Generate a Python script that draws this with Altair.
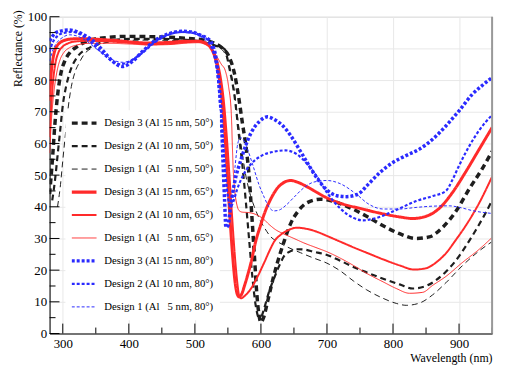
import altair as alt
import pandas as pd

# ---------------- data ----------------
series_names = [
    "Design 3 (Al 15 nm, 50°)",
    "Design 2 (Al 10 nm, 50°)",
    "Design 1 (Al\u00a0\u00a0\u00a05 nm, 50°)",
    "Design 3 (Al 15 nm, 65°)",
    "Design 2 (Al 10 nm, 65°)",
    "Design 1 (Al\u00a0\u00a0\u00a05 nm, 65°)",
    "Design 3 (Al 15 nm, 80°)",
    "Design 2 (Al 10 nm, 80°)",
    "Design 1 (Al\u00a0\u00a0\u00a05 nm, 80°)",
]

# Design 3, 50 deg
b3_wl = [280, 284, 288, 292, 297, 303, 310, 322, 340, 370, 400, 450, 480, 500, 515, 530, 542, 552,
         560, 566, 572, 578, 582, 586, 590, 594, 597, 600, 604, 610, 618, 625, 635, 645, 657, 670,
         690, 705, 720, 740, 760, 785, 810, 835, 855, 875, 895, 915, 935, 950]
b3_r = [44, 54, 66, 75, 82, 86, 88.5, 90.6, 92.5, 93.5, 93.8, 93.6, 93.3, 93, 92.6, 91.6, 90, 87.3,
        82, 75, 66.4, 58, 50, 38, 25, 12, 6, 3.5, 5, 10, 17, 22.4, 29, 34.7, 38.8, 41.3,
        42.4, 42, 41, 39.2, 37, 34, 31.5, 30, 30.5, 33.5, 38.5, 45.5, 52, 57.5]

# Design 2, 50 deg
b2_wl = [284, 288, 292, 296, 300, 305, 310, 322, 342, 370, 400, 450, 500, 520, 535, 545, 552, 560,
         567, 572, 577, 582, 587, 592, 597, 601, 605, 612, 620, 628, 635, 645, 655, 665, 680, 700,
         720, 740, 760, 785, 810, 830, 850, 865, 880, 895, 910, 925, 940, 950]
b2_r = [42, 48, 56, 64, 72, 78, 82, 87.3, 90.4, 92.4, 93, 93, 92.5, 91.6, 90.6, 89.8, 84, 75,
        62, 53, 42, 30, 18, 9, 5, 5.5, 8, 13, 17.5, 21.5, 24.4, 26, 26.6, 26.5, 25.8, 24.8,
        23, 21, 19.3, 17.3, 15.5, 14.2, 15, 16.8, 19.5, 23, 27.5, 32.5, 38, 42]

# Design 1, 50 deg
b1_wl = [292, 296, 300, 304, 308, 313, 318, 325, 333, 345, 358, 380, 420, 470, 500, 520, 535, 545,
         553, 560, 566, 571, 577, 583, 590, 597, 605, 615, 625, 640, 660, 680, 700, 720, 740, 760,
         785, 805, 820, 840, 860, 880, 905, 930, 950]
b1_r = [40, 46, 54.6, 63, 71, 78, 82.2, 85.5, 88.3, 90.2, 91.4, 92.2, 92.6, 92.5, 92.2, 91.5, 90.5, 88.5,
        84, 76, 66, 58, 50, 44.5, 40, 36.5, 33.5, 30.5, 29, 27.3, 25.5, 23.8, 22.2, 19.8, 16.6, 13.8,
        11.1, 9.5, 8.9, 9.6, 12.2, 16, 21.4, 26, 29]

# Design 3, 65 deg
r3_wl = [280, 282, 285, 288, 292, 297, 305, 315, 330, 350, 380, 410, 430, 460, 490, 505, 515, 523,
         530, 536, 541, 545, 549, 553, 557, 561, 564, 567, 571, 575, 580, 585, 592, 600, 605, 615,
         625, 635, 645, 655, 670, 685, 700, 725, 750, 780, 810, 830, 850, 870, 890, 910, 930, 950]
r3_r = [73.5, 81, 86.5, 89.4, 91, 92, 92.7, 93, 93.1, 92.9, 92.5, 91.9, 91.7, 91.9, 92.3, 92.3, 91.8, 90.5,
        87.5, 82, 74, 64, 51, 37, 25, 16, 12.5, 11.6, 12.5, 15, 18.5, 22.4, 29, 34.5, 37.7, 42.5,
        45.9, 47.7, 48.3, 47.8, 46.3, 44.5, 42.8, 40.8, 39.5, 38, 36.8, 36.3, 37, 39.5, 44.5, 51, 58, 65]

# Design 2, 65 deg
r2_wl = [280, 282, 285, 289, 293, 300, 308, 320, 340, 370, 400, 430, 460, 490, 505, 515, 525, 533,
         539, 544, 548, 552, 556, 560, 564, 567, 570, 575, 585, 595, 605, 615, 620, 630, 640, 655,
         670, 685, 700, 720, 740, 760, 785, 810, 832, 850, 865, 880, 895, 910, 930, 950]
r2_r = [62, 70, 79, 85.5, 88.5, 90.6, 91.6, 92.2, 92.4, 92.2, 91.8, 91.3, 91.5, 92, 92.1, 91.6, 90, 86.5,
        81, 73, 63, 51, 38, 26, 16.5, 12, 11.1, 11.8, 14.2, 18, 22.4, 27, 29, 31.2, 32.5, 33.4,
        33, 32.1, 30.8, 29, 27.2, 25.5, 23.4, 21.5, 20.2, 20.6, 22.4, 25.3, 29.5, 34, 41, 49.5]

# Design 1, 65 deg
r1_wl = [280, 283, 287, 291, 296, 302, 310, 320, 340, 370, 400, 430, 460, 490, 505, 515, 525, 533,
         540, 546, 551, 555, 558, 561, 564, 567, 572, 580, 588, 595, 603, 612, 622, 635, 650, 665,
         685, 700, 720, 740, 760, 785, 805, 825, 845, 860, 880, 905, 930, 950]
r1_r = [57, 68, 77, 82.5, 86.5, 88.8, 90.2, 91, 91.6, 91.6, 91.4, 91.1, 91.2, 91.7, 91.8, 91.3, 89.8, 87.5,
        85, 83, 78, 70, 52, 44, 40.3, 38.8, 38.3, 38.2, 37.9, 37.3, 36.3, 34.5, 32.8, 31.4, 30, 28.6,
        27, 25.8, 23.8, 21.5, 19, 16.3, 14.2, 12.7, 13, 15.2, 18, 22.4, 26.5, 30.3]

# Design 3, 80 deg
u3_wl = [280, 285, 290, 300, 310, 320, 330, 345, 360, 375, 390, 405, 420, 440, 460, 480, 495, 510,
         520, 527, 532, 536, 540, 543, 545, 547, 550, 554, 560, 570, 585, 598, 610, 620, 632, 645,
         657, 670, 685, 700, 715, 730, 747, 762, 780, 800, 820, 840, 860, 880, 900, 920, 935, 950]
u3_r = [92.3, 94, 95, 95.6, 95.8, 95.4, 94.5, 92.5, 89.5, 86, 84.3, 85.8, 88.9, 92.5, 94.6, 95.4, 95.2, 94,
        93, 91, 87, 80, 68, 52, 42, 33.5, 34, 40, 47.5, 55, 63.3, 67, 68.4, 67.6, 65.8, 62.5,
        58.5, 54, 49, 45.3, 43.5, 43.2, 44, 47, 50.8, 54, 56.2, 58.2, 61.3, 65.5, 70.3, 75.5, 78.3, 80.8]

# Design 2, 80 deg
u2_wl = [280, 285, 290, 300, 315, 330, 345, 360, 375, 388, 400, 420, 440, 460, 480, 495, 510, 522,
         529, 534, 538, 542, 546, 550, 554, 558, 564, 572, 585, 600, 620, 637, 655, 670, 685, 700,
         720, 740, 755, 770, 785, 810, 835, 860, 880, 890, 900, 915, 930, 950]
u2_r = [89, 92, 93.5, 94.8, 95.2, 94, 91.5, 88.5, 86, 85, 85.8, 88.5, 92, 94.3, 95.2, 95, 94, 92,
        88, 82, 73, 62, 51, 43, 40, 41.5, 45.5, 49.5, 53.5, 56, 57.4, 57.8, 56.5, 53.5, 49.5, 44.5,
        39.5, 36.5, 35.7, 36.2, 37.2, 39.5, 41.8, 43.4, 45, 48.5, 53, 59, 64, 69]

# Design 1, 80 deg
u1_wl = [280, 285, 290, 300, 310, 320, 335, 350, 365, 380, 392, 405, 420, 440, 460, 480, 495, 510,
         522, 530, 536, 541, 545, 549, 553, 557, 561, 565, 569, 574, 580, 588, 597, 605, 612, 620,
         628, 638, 650, 665, 680, 700, 720, 745, 762, 785, 810, 835, 860, 885, 905, 920, 950]
u1_r = [86, 89.5, 91.5, 93.5, 94.3, 94, 92.5, 90, 87.8, 86, 85.6, 86.5, 89, 92.5, 94.3, 95, 94.8, 93.5,
        91, 87, 80, 68, 55, 45, 40.5, 44, 53, 60, 61.8, 61, 58, 53, 47, 43, 40, 38.7,
        39, 40.5, 43, 46, 47.8, 48.3, 47.3, 43.9, 41, 39.3, 39.3, 39.8, 40.2, 40.3, 39.6, 38.8, 37.9]

curves = [(b3_wl, b3_r), (b2_wl, b2_r), (b1_wl, b1_r),
          (r3_wl, r3_r), (r2_wl, r2_r), (r1_wl, r1_r),
          (u3_wl, u3_r), (u2_wl, u2_r), (u1_wl, u1_r)]

# tick values
x_major = [300, 400, 500, 600, 700, 800, 900]
x_minor = [350, 450, 550, 650, 750, 850, 950]
y_major = [0, 10, 20, 30, 40, 50, 60, 70, 80, 90, 100]
y_minor = [5, 15, 25, 35, 45, 55, 65, 75, 85, 95]

# ---------------- styles ----------------
BLACK, RED, BLUE = "#1e1e1e", "#ff2a2a", "#2a2aff"
colors = [BLACK, BLACK, BLACK, RED, RED, RED, BLUE, BLUE, BLUE]
dashes = [[6, 4], [6, 4], [6, 4], [1, 0], [1, 0], [1, 0], [3, 2], [3, 2], [3, 2]]
widths = [3.5, 2.2, 1.0, 3.0, 2.0, 1.0, 3.5, 2.2, 1.0]

rows = []
for i, ((wl, r), name, w) in enumerate(zip(curves, series_names, widths)):
    for a, b in zip(wl, r):
        rows.append({"series": name, "wl": a, "R": b, "w": w, "order": i})
df = pd.DataFrame(rows)

W, H, TOP = 447, 320, 7
FONT = "Liberation Serif"
xscale = alt.Scale(domain=[280, 950], nice=False, zero=False)
yscale = alt.Scale(domain=[0, 100], nice=False, zero=False)

axis_style = dict(labelFont=FONT, labelFontSize=13, labelColor="black",
                  titleFont=FONT, titleFontSize=12, titleFontWeight="normal", titleColor="black",
                  domainColor="black", domainWidth=1, gridColor="#e8e8e8", gridWidth=1)
xaxis = alt.Axis(title="Wavelength (nm)", values=x_major, grid=True, ticks=False,
                 labelPadding=4, titleAnchor="end", titleAlign="right",
                 titleX=W, titleY=28, titleBaseline="alphabetic", **axis_style)
yaxis = alt.Axis(title="Reflectance (%)", values=y_major, grid=True, ticks=False,
                 labelPadding=3, titleAnchor="end", titleAlign="right",
                 titleX=-28, titleY=-TOP, titleBaseline="alphabetic", titleAngle=-90, **axis_style)

width_expr = ("test(/^Design 3/, datum.value) ? 3.2 : "
              "(test(/^Design 2/, datum.value) ? 2.2 : 1)")

lines = alt.Chart(df).mark_line(interpolate="monotone", clip=True).encode(
    x=alt.X("wl:Q", scale=xscale, axis=xaxis),
    y=alt.Y("R:Q", scale=yscale, axis=yaxis),
    color=alt.Color("series:N", scale=alt.Scale(domain=series_names, range=colors),
                    legend=alt.Legend(title=None, orient="none", legendX=16, legendY=94.5,
                                      direction="vertical", padding=6, fillColor="white",
                                      symbolType="stroke", symbolSize=625, symbolOffset=7.5,
                                      symbolStrokeWidth=alt.ExprRef(expr=width_expr),
                                      clipHeight=14, rowPadding=9.2, labelOffset=15,
                                      labelFont=FONT, labelFontSize=10.8, labelColor="black",
                                      labelLimit=300)),
    strokeDash=alt.StrokeDash("series:N", scale=alt.Scale(domain=series_names, range=dashes)),
    strokeWidth=alt.StrokeWidth("w:Q", scale=None),
    detail="series:N",
    order="order:Q",
)

ymaj = alt.Chart(pd.DataFrame({"R": y_major})).mark_rule(color="black", strokeWidth=1).encode(
    y=alt.Y("R:Q", scale=yscale, axis=yaxis), x=alt.value(0), x2=alt.value(10))
ymin = alt.Chart(pd.DataFrame({"R": y_minor})).mark_rule(color="black", strokeWidth=1).encode(
    y=alt.Y("R:Q", scale=yscale, axis=yaxis), x=alt.value(0), x2=alt.value(6))
xmaj = alt.Chart(pd.DataFrame({"wl": x_major})).mark_rule(color="black", strokeWidth=1).encode(
    x=alt.X("wl:Q", scale=xscale, axis=xaxis), y=alt.value(H), y2=alt.value(H - 10))
xmin = alt.Chart(pd.DataFrame({"wl": x_minor})).mark_rule(color="black", strokeWidth=1).encode(
    x=alt.X("wl:Q", scale=xscale, axis=xaxis), y=alt.value(H), y2=alt.value(H - 6))
right = alt.Chart(pd.DataFrame({"wl": [950]})).mark_rule(color="#999999", strokeWidth=2).encode(
    x=alt.X("wl:Q", scale=xscale, axis=xaxis), y=alt.value(0), y2=alt.value(H))

chart = alt.layer(lines, ymaj, ymin, xmaj, xmin, right).properties(
    width=W, height=H,
    background="white",
    autosize=alt.AutoSizeParams(type="none"),
    padding={"left": 42, "top": TOP, "right": 8, "bottom": 30},
).configure_view(stroke="#cccccc", strokeWidth=1)

chart.save("out.html", embed_options={"renderer": "svg", "actions": False})
